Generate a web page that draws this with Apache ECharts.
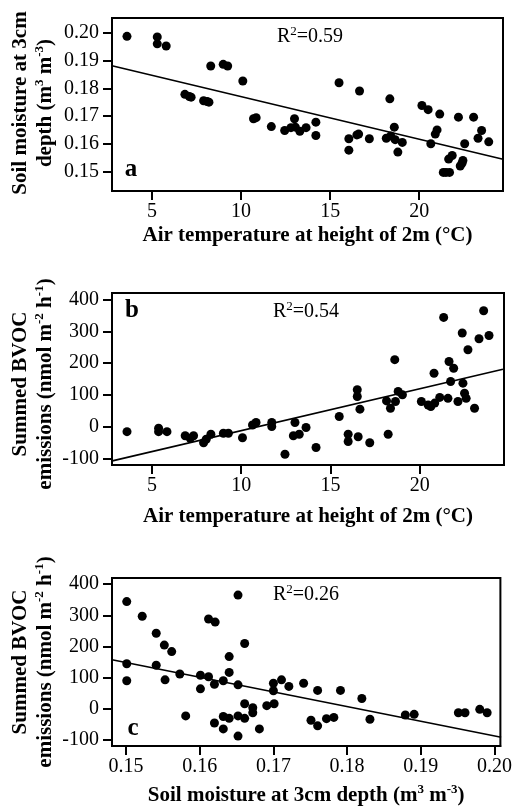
<!DOCTYPE html>
<html>
<head>
<meta charset="utf-8">
<script src="https://cdn.jsdelivr.net/npm/echarts@6/dist/echarts.min.js"></script>
<style>
html,body{margin:0;padding:0;background:#fff;}
#chart{width:515px;height:807px;}
</style>
</head>
<body>
<div id="chart"></div>
<script>
// ---------- DATA ----------
// Panel a: air temperature (°C) vs soil moisture (m3 m-3)
const tempA = [3.6,5.3,5.3,5.8,6.85,7.1,7.2,7.9,8.1,8.2,8.3,9.0,9.25,10.1,10.7,10.85,11.7,12.45,12.8,13.0,13.05,13.3,13.65,14.2,14.2,15.5,16.05,16.05,16.5,16.6,16.65,17.2,18.15,18.35,18.4,18.6,18.65,18.8,19.05,20.15,20.5,20.65,20.9,21.0,21.15,21.35,21.5,21.7,21.65,21.85,22.2,22.3,22.4,22.45,22.55,23.05,23.3,23.5,23.9];
const soilA = [0.1987,0.1985,0.1960,0.1952,0.1778,0.1770,0.1768,0.1755,0.1752,0.1750,0.1880,0.1886,0.1880,0.1826,0.1690,0.1694,0.1662,0.1648,0.1658,0.1690,0.1660,0.1645,0.1658,0.1678,0.1630,0.1820,0.1618,0.1577,0.1632,0.1635,0.1790,0.1618,0.1620,0.1762,0.1628,0.1660,0.1615,0.1570,0.1605,0.1738,0.1723,0.1600,0.1635,0.1650,0.1707,0.1497,0.1497,0.1497,0.1545,0.1558,0.1696,0.1520,0.1530,0.1540,0.1600,0.1696,0.1620,0.1648,0.1607];
const fitA_x = [2.76, 24.7];
const fitA_y = [0.1881, 0.1544];

// Panel b: air temperature (°C) vs summed BVOC emissions
const tempB = [3.6,5.37,5.37,5.84,6.86,7.14,7.33,7.89,8.04,8.3,9.0,9.28,10.07,10.63,10.83,11.71,11.71,12.45,12.92,13.01,13.25,13.63,14.19,15.49,15.99,15.99,16.5,16.5,16.55,16.65,17.2,18.14,18.23,18.36,18.6,18.64,18.79,19.03,20.09,20.47,20.62,20.8,20.84,21.12,21.34,21.58,21.64,21.73,21.9,22.14,22.38,22.42,22.51,22.6,22.7,23.07,23.32,23.58,23.88];
const bvocB = [-16,-5,-16,-16,-29,-37,-29,-51,-40,-24,-21,-21,-35,5,13,13,0,-87,-29,13,-24,-3,-66,32,-24,-47,116,95,-32,55,-51,81,-24,58,211,79,111,100,79,68,63,168,74,92,344,89,205,142,184,79,295,137,105,89,242,58,277,365,287];
const fitB_x = [2.78, 24.66];
const fitB_y = [-108, 181];

// Panel c: soil moisture (m3 m-3) vs summed BVOC emissions
const soilC = [0.1501,0.1501,0.1501,0.1522,0.1541,0.1541,0.1552,0.1553,0.1562,0.1573,0.1581,0.1601,0.1601,0.1612,0.1612,0.1621,0.1620,0.1620,0.1632,0.1632,0.1632,0.1640,0.1640,0.1640,0.1652,0.1652,0.1652,0.1652,0.1661,0.1661,0.1661,0.1672,0.1672,0.1681,0.1691,0.1700,0.1700,0.1701,0.1711,0.1721,0.1741,0.1751,0.1760,0.1760,0.1772,0.1782,0.1791,0.1820,0.1831,0.1879,0.1891,0.1951,0.1960,0.1980,0.1990];
const bvocC = [344,144,89,297,242,139,204,92,183,111,-24,107,63,288,102,278,78,-47,89,-26,-66,167,116,-32,365,76,-24,-89,209,15,-32,2,-14,-66,9,81,57,15,92,71,81,-38,58,-56,-33,-29,58,32,-35,-21,-19,-14,-14,-3,-14];
const fitC_x = [0.1481, 0.2009];
const fitC_y = [157, -93];

// Tick values and labels
const tempTicks = [5, 10, 15, 20];
const soilTicks = [0.15, 0.16, 0.17, 0.18, 0.19, 0.20];
const bvocTicks = [-100, 0, 100, 200, 300, 400];
const r2Values = ['0.59', '0.54', '0.26'];
const panelLetters = ['a', 'b', 'c'];

// ---------- CHART ----------
const SERIF = 'Liberation Serif';
const zip = (xs, ys) => xs.map((x, i) => [x, ys[i]]);

function axis(gridIndex, min, max, ticks, fmt, labelMargin, extra) {
  return Object.assign({
    type: 'value', gridIndex, min, max,
    splitLine: { show: false },
    axisLine: { show: true, onZero: false, lineStyle: { color: '#000', width: 2 } },
    axisTick: { show: true, length: 9, inside: false, customValues: ticks, lineStyle: { color: '#000', width: 2 } },
    axisLabel: { show: true, customValues: ticks, color: '#000', fontFamily: SERIF, fontSize: 20, fontWeight: 'normal',
                 margin: labelMargin, formatter: fmt }
  }, extra || {});
}
const fmt2 = v => Number(v).toFixed(2);
const fmtInt = v => String(Math.round(v));

const boldT = { fontFamily: SERIF, fontWeight: 'bold', fontSize: 21, color: '#000', lineHeight: 25 };
const supT = { fontFamily: SERIF, fontWeight: 'bold', fontSize: 13, color: '#000', lineHeight: 13, verticalAlign: 'top' };
const richTitle = { b: boldT, s: supT };

const xNameTemp = '{b|Air temperature at height of 2m (°C)}';
const xNameSoil = '{b|Soil moisture at 3cm depth (m}{s|3}{b| m}{s|-3}{b|)}';

function xAxisWithName(gridIndex, min, max, ticks, fmt, name, gap) {
  return axis(gridIndex, min, max, ticks, fmt, 11, {
    name: name, nameLocation: 'middle', nameGap: gap,
    nameTextStyle: { rich: richTitle, color: '#000', fontFamily: SERIF }
  });
}

function yTitle(cx, cy, text) {
  return {
    type: 'text', x: cx, y: cy, rotation: Math.PI / 2,
    style: { text: text, rich: richTitle, textAlign: 'center', textVerticalAlign: 'middle', fill: '#000' }
  };
}
const normT = { fontFamily: SERIF, fontSize: 20, color: '#000', lineHeight: 24 };
const supN = { fontFamily: SERIF, fontSize: 13, color: '#000', lineHeight: 13, verticalAlign: 'top' };
function r2Text(cx, cy, val) {
  return {
    type: 'text', x: cx, y: cy,
    style: { text: '{n|R}{s|2}{n|=' + val + '}', rich: { n: normT, s: supN },
             textAlign: 'center', textVerticalAlign: 'middle', fill: '#000' }
  };
}
function letter(cx, cy, l) {
  return {
    type: 'text', x: cx, y: cy,
    style: { text: l, font: 'bold 25px "Liberation Serif"', textAlign: 'center', textVerticalAlign: 'middle', fill: '#000' }
  };
}

const gridStyle = { show: true, borderColor: '#000', borderWidth: 2, backgroundColor: 'transparent', containLabel: false };

function scatter(i, data) {
  return { type: 'scatter', xAxisIndex: i, yAxisIndex: i, data: data, symbol: 'circle', symbolSize: 9,
           itemStyle: { color: '#000', opacity: 1 }, silent: true, z: 3 };
}
function fit(i, xs, ys) {
  return { type: 'line', xAxisIndex: i, yAxisIndex: i, data: zip(xs, ys), symbol: 'none',
           lineStyle: { color: '#000', width: 1.6 }, silent: true, z: 2 };
}

const option = {
  animation: false,
  backgroundColor: '#fff',
  textStyle: { fontFamily: SERIF, color: '#000' },
  grid: [
    Object.assign({ left: 112, top: 18, width: 391, height: 173 }, gridStyle),
    Object.assign({ left: 112, top: 293, width: 392, height: 172 }, gridStyle),
    Object.assign({ left: 112, top: 578, width: 391, height: 171 }, gridStyle)
  ],
  xAxis: [
    xAxisWithName(0, 2.76, 24.7, tempTicks, fmtInt, xNameTemp, 32),
    xAxisWithName(1, 2.76, 24.72, tempTicks, fmtInt, xNameTemp, 39),
    xAxisWithName(2, 0.1481, 0.2008, soilTicks, fmt2, xNameSoil, 37)
  ],
  yAxis: [
    axis(0, 0.143, 0.2053, soilTicks, fmt2, 13),
    axis(1, -121, 421, bvocTicks, fmtInt, 13),
    axis(2, -121, 420, bvocTicks, fmtInt, 13)
  ],
  series: [
    fit(0, fitA_x, fitA_y), scatter(0, zip(tempA, soilA)),
    fit(1, fitB_x, fitB_y), scatter(1, zip(tempB, bvocB)),
    fit(2, fitC_x, fitC_y), scatter(2, zip(soilC, bvocC))
  ],
  graphic: [
    yTitle(33, 103, '{b|Soil moisture at 3cm}\n{b|depth (m}{s|3}{b| m}{s|-3}{b|)}'),
    yTitle(33, 384, '{b|Summed BVOC}\n{b|emissions (nmol m}{s|-2}{b| h}{s|-1}{b|)}'),
    yTitle(33, 662, '{b|Summed BVOC}\n{b|emissions (nmol m}{s|-2}{b| h}{s|-1}{b|)}'),
    r2Text(310, 37, r2Values[0]),
    r2Text(306, 312, r2Values[1]),
    r2Text(306, 595, r2Values[2]),
    letter(131, 170, panelLetters[0]),
    letter(132, 311, panelLetters[1]),
    letter(133, 729, panelLetters[2])
  ]
};

const chart = echarts.init(document.getElementById('chart'), null, { renderer: 'canvas' });
chart.setOption(option);
</script>
</body>
</html>
